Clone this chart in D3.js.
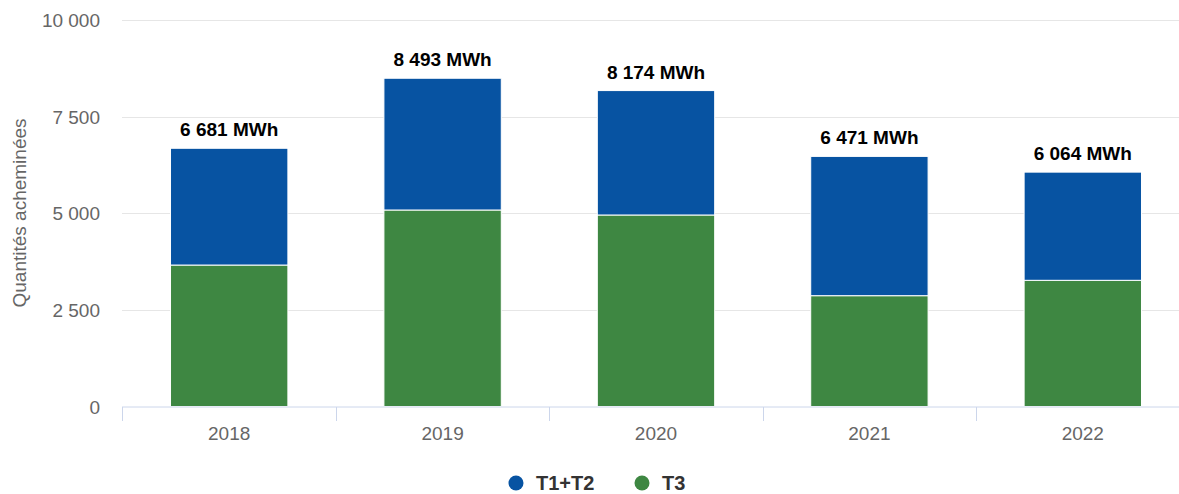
<!DOCTYPE html>
<html><head><meta charset="utf-8">
<script src="https://cdn.jsdelivr.net/npm/d3@7"></script>
<style>body{margin:0;background:#fff;font-family:"Liberation Sans",Arial,sans-serif}</style>
</head><body><svg id="c" width="1179" height="494"></svg>
<script>
const categories = ["2018","2019","2020","2021","2022"];
const t3 = [3660, 5084, 4955, 2867, 3265];
const t1t2 = [3021, 3409, 3219, 3604, 2799];
const totals = [6681, 8493, 8174, 6471, 6064];
const yTicks = [0, 2500, 5000, 7500, 10000];
const seriesNames = ["T1+T2", "T3"];
const colors = {"T1+T2": "#0753a2", "T3": "#3e8742"};

const svg = d3.select("#c");
const x = d3.scaleBand().domain(categories).range([122.5, 1189.5]).paddingInner(0.45).paddingOuter(0.225);
const y = d3.scaleLinear().domain([0, 10000]).range([406.5, 20]);
const fmt = v => d3.format(",")(v).replace(/,/g, " ");

svg.append("g").selectAll("line").data(yTicks.slice(1)).join("line")
  .attr("x1", 122).attr("x2", 1179).attr("y1", d => Math.round(y(d)) + 0.5).attr("y2", d => Math.round(y(d)) + 0.5)
  .attr("stroke", "#e6e6e6").attr("stroke-width", 1);

svg.append("g").selectAll("text").data(yTicks).join("text")
  .attr("x", 100).attr("y", d => y(d) + 7).attr("text-anchor", "end")
  .attr("font-size", 19).attr("fill", "#666").text(d => fmt(d));

svg.append("text").attr("transform", "translate(26,213) rotate(-90)")
  .attr("text-anchor", "middle").attr("font-size", 19).attr("fill", "#666").text("Quantités acheminées");

const data = categories.map((c, i) => ({cat: c, "T3": t3[i], "T1+T2": t1t2[i]}));
const stack = d3.stack().keys(["T3", "T1+T2"])(data);
svg.append("g").selectAll("g").data(stack).join("g").attr("fill", d => colors[d.key])
  .selectAll("rect").data(d => d).join("rect")
  .attr("x", d => x(d.data.cat)).attr("width", x.bandwidth())
  .attr("y", d => y(d[1])).attr("height", d => y(d[0]) - y(d[1]))
  .attr("stroke", "#fff").attr("stroke-width", 1);

svg.append("line").attr("x1", 122).attr("x2", 1179).attr("y1", 407).attr("y2", 407).attr("stroke", "#ccd6eb");
const edges = categories.map(c => x(c) - x.step() * x.paddingInner() / 2);
edges.push(x(categories[4]) + x.bandwidth() + x.step() * x.paddingInner() / 2);
svg.append("g").selectAll("line").data(edges).join("line")
  .attr("x1", d => Math.round(d) + 0.5).attr("x2", d => Math.round(d) + 0.5).attr("y1", 407).attr("y2", 421).attr("stroke", "#ccd6eb");
svg.append("g").selectAll("text").data(categories).join("text")
  .attr("x", d => x(d) + x.bandwidth() / 2).attr("y", 440).attr("text-anchor", "middle")
  .attr("font-size", 19).attr("fill", "#666").text(d => d);

svg.append("g").selectAll("text").data(totals).join("text")
  .attr("x", (d, i) => x(categories[i]) + x.bandwidth() / 2).attr("y", d => y(d) - 12)
  .attr("text-anchor", "middle").attr("font-size", 19).attr("font-weight", "bold").attr("fill", "#000")
  .text(d => fmt(d) + " MWh");

const lg = svg.append("g");
const legendX = [516, 642];
seriesNames.forEach((s, i) => {
  lg.append("circle").attr("cx", legendX[i]).attr("cy", 483).attr("r", 7.5).attr("fill", colors[s]);
  lg.append("text").attr("x", legendX[i] + 20).attr("y", 490).attr("font-size", 20).attr("font-weight", "bold").attr("fill", "#333").text(s);
});
</script></body></html>
